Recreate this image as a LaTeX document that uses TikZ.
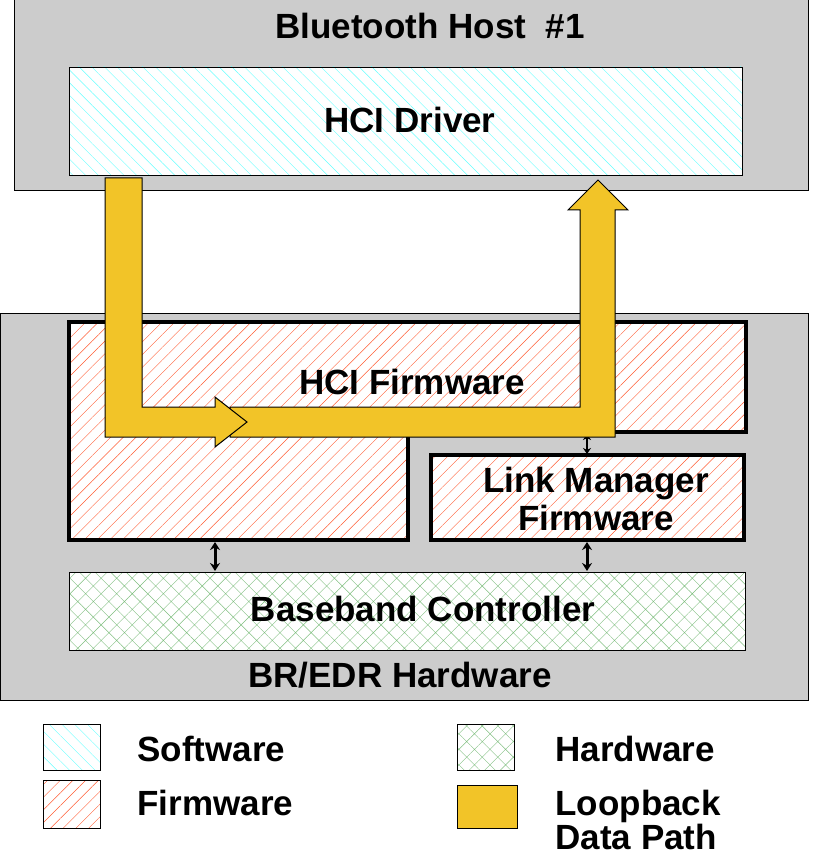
\documentclass[tikz,border=0pt]{standalone}
\usepackage{fontspec}
\setmainfont{Liberation Sans}
\usetikzlibrary{patterns.meta,arrows.meta}
\definecolor{panelgray}{RGB}{204,204,204}
\definecolor{loopyellow}{RGB}{242,196,40}
\tikzset{
  panel/.style={fill=panelgray, draw=black, line width=1pt},
  swfill/.style={pattern={Lines[angle=-45,distance=9pt,line width=0.4pt]}, pattern color=cyan!60},
  fwfill/.style={pattern={Lines[angle=45,distance=9pt,line width=0.4pt]}, pattern color=red!60!orange!80},
  hwfill/.style={pattern={Hatch[angle=45,distance=11pt,line width=0.4pt]}, pattern color=green!50!black!50},
  lbl/.style={font=\bfseries\fontsize{35}{37}\selectfont},
  linktip/.style={{Stealth[length=8pt,width=10pt]}-{Stealth[length=8pt,width=10pt]}},
  loop/.style={fill=loopyellow, draw=black, line width=1pt}
}
\begin{document}
\begin{tikzpicture}[x=1pt,y=-1pt]
    \useasboundingbox (0,0) rectangle (824,866);

    % Host side
    \draw[panel] (14,0) rectangle (808,191);
    \node[lbl] (host) at (430,26) {Bluetooth Host \ \#1};
    \fill[white] (69,67) rectangle (742,175);
    \draw[swfill, draw=black, line width=0.6pt] (69,67) rectangle (742,175);
    \node[lbl] (driver) at (410,120) {HCI Driver};

    % Controller side
    \draw[panel] (0,313) rectangle (808,700);
    \fill[white] (69,322) -- (746,322) -- (746,432) -- (408,432) -- (408,540) -- (69,540) -- cycle;
    \draw[fwfill, draw=black, line width=3.5pt] (69,322) -- (746,322) -- (746,432) -- (408,432) -- (408,540) -- (69,540) -- cycle;
    \node[lbl] (hcifw) at (412,382) {HCI Firmware};
    \fill[white] (431,455) rectangle (744,540);
    \draw[fwfill, draw=black, line width=3.5pt] (431,455) rectangle (744,540);
    \node[lbl, align=center, font=\bfseries\fontsize{35}{38}\selectfont] (lmp) at (596,499) {Link Manager\\Firmware};
    \fill[white] (69,572) rectangle (745,650);
    \draw[hwfill, draw=black, line width=0.6pt] (69,572) rectangle (745,650);
    \node[lbl] (bb) at (423,609) {Baseband Controller};
    \node[lbl] (hw) at (400,675) {BR/EDR Hardware};

    % Inner links
    \coordinate (l1a) at (215,542); \coordinate (l1b) at (215,571);
    \coordinate (l2a) at (587,542); \coordinate (l2b) at (587,571);
    \coordinate (l3a) at (587,434); \coordinate (l3b) at (587,454);
    \draw[linktip, line width=3pt] (l1a) -- (l1b);
    \draw[linktip, line width=3pt] (l2a) -- (l2b);
    \draw[{Stealth[length=6pt,width=8pt]}-{Stealth[length=6pt,width=8pt]}, line width=2pt] (l3a) -- (l3b);

    % Loopback data path
    \draw[loop] (230,407) -- (580,407) -- (580,210) -- (568,210) -- (598,180) -- (628,210)
        -- (615,210) -- (615,437) -- (230,437) -- cycle;
    \draw[loop] (105,178) -- (142,178) -- (142,407) -- (215,407) -- (215,397) -- (247,422)
        -- (215,447) -- (215,437) -- (105,437) -- cycle;

    % Legend
    \draw[swfill, draw=black, line width=0.6pt] (43,724) rectangle (100,770);
    \node[lbl, anchor=west] (lsw) at (134,749) {Software};
    \draw[fwfill, draw=black, line width=0.6pt] (43,780) rectangle (100,828);
    \node[lbl, anchor=west] (lfw) at (134,803) {Firmware};
    \draw[hwfill, draw=black, line width=0.6pt] (457,724) rectangle (514,770);
    \node[lbl, anchor=west] (lhw) at (552,749) {Hardware};
    \draw[loop] (457,785) rectangle (517,828);
    \node[lbl, anchor=west, align=left, font=\bfseries\fontsize{35}{34}\selectfont] (llb) at (552,820) {Loopback\\Data Path};
\end{tikzpicture}
\end{document}
